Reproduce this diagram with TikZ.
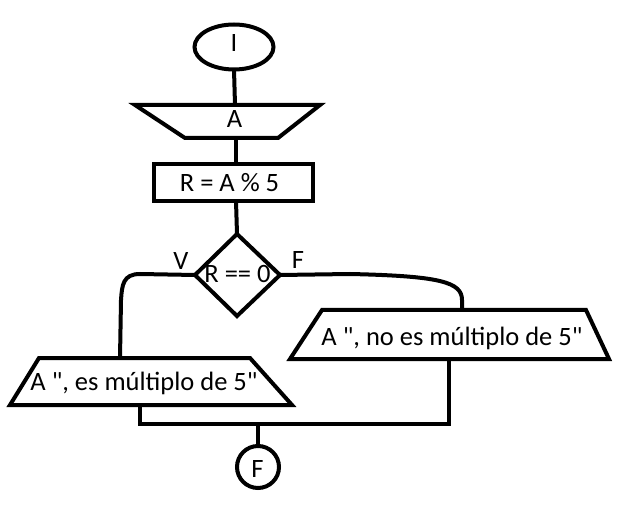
\documentclass[tikz,border=0pt]{standalone}
\usepackage{fontspec}
\setmainfont{Carlito}[Ligatures=TeXOff]
\usetikzlibrary{shapes.geometric}
\begin{document}
\begin{tikzpicture}[x=1pt,y=-1pt,line width=4pt,line join=miter,
  lbl/.style={anchor=base,inner sep=0pt,font=\fontsize{26.5}{30}\selectfont}]
\useasboundingbox (0,0) rectangle (626,518);
% terminals
\draw (234,47) ellipse [x radius=39.5, y radius=22.5];
\coordinate (startS) at (234,69.5);
\node[lbl] (tI) at (234,52) {I};
% input A
\draw (135,105) -- (320,105) -- (278,138) -- (185,138) -- cycle;
\coordinate (inN) at (235,105);
\coordinate (inS) at (236,138);
\node[lbl] (tA) at (234.5,128) {A};
% process
\draw (154,164) rectangle (313,201);
\coordinate (prN) at (236,164);
\coordinate (prS) at (236,201);
\node[lbl] (tR) at (229.5,192) {R = A \% 5};
% decision
\draw (237,234) -- (280,275) -- (237,316) -- (195,275) -- cycle;
\coordinate (dN) at (237,234);
\coordinate (dW) at (195,275);
\coordinate (dE) at (280,275);
\node[lbl] (tD) at (237.5,283) {R == 0};
\node[lbl] (tV) at (181,270) {V};
\node[lbl] (tF) at (298,269) {F};
% output false
\draw (322,310) -- (586,310) -- (609,359) -- (290,359) -- cycle;
\coordinate (oFN) at (462,310);
\coordinate (oFS) at (449,359);
\node[lbl] (tOF) at (452,345) {A ", no es múltiplo de 5"};
% output true
\draw (39,358) -- (250,358) -- (292,405) -- (10,405) -- cycle;
\coordinate (oTN) at (120,358);
\coordinate (oTS) at (140,405);
\node[lbl] (tOT) at (144,390) {A ", es múltiplo de 5"};
% end
\draw (258,467) circle [radius=21];
\coordinate (endN) at (258,446);
\node[lbl] (tE) at (257.5,477) {F};
% connectors
\draw (startS) -- (inN);
\draw (inS) -- (prN);
\draw (prS) -- (dN);
\draw (dW) -- (140,274) .. controls (123,274) and (122,285) .. (121,300) -- (oTN);
\draw (dE) -- (350,274) .. controls (440,276) and (462,282) .. (462,300) -- (oFN);
\coordinate (mL) at (140,424);
\coordinate (mR) at (449,424);
\coordinate (mE) at (258,424);
\draw (oTS) -- (mL) -- (mR) -- (oFS);
\draw (mE) -- (endN);
\end{tikzpicture}
\end{document}
